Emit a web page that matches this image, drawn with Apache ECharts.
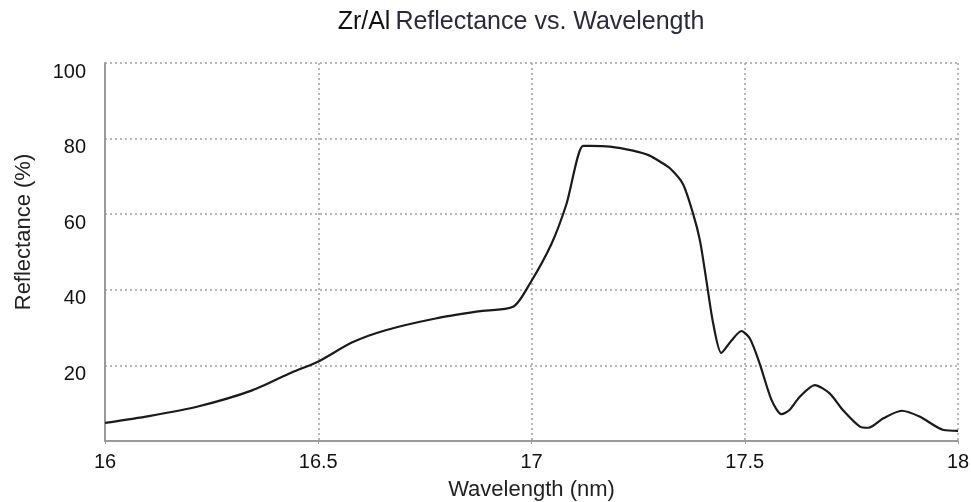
<!DOCTYPE html>
<html>
<head>
<meta charset="utf-8">
<script src="https://cdn.jsdelivr.net/npm/echarts@6/dist/echarts.min.js"></script>
<style>
  html, body { margin: 0; padding: 0; background: #fff; }
  #chart { width: 971px; height: 502px; }
</style>
</head>
<body>
<div id="chart"></div>
<script>
// values
var wavelength = [16.0, 16.103, 16.22, 16.345, 16.439, 16.498, 16.58, 16.658, 16.775,
    16.876, 16.958, 16.996, 17.047, 17.082, 17.121, 17.137, 17.184, 17.238, 17.277,
    17.30, 17.324, 17.355, 17.379, 17.395, 17.41, 17.426, 17.445, 17.469, 17.492,
    17.512, 17.535, 17.563, 17.586, 17.605, 17.629, 17.664, 17.699, 17.73, 17.77,
    17.79, 17.825, 17.868, 17.911, 17.966, 18.0];
var reflectance = [4.8, 6.6, 9.2, 13.4, 18.2, 20.9, 26.1, 29.3, 32.4,
    34.3, 35.6, 41.6, 52.2, 62.7, 78.1, 78.1, 77.9, 76.8, 75.5,
    74.0, 72.2, 68.0, 60.1, 53.0, 42.5, 31.1, 23.3, 26.6, 29.1,
    27.1, 20.5, 10.8, 7.1, 8.2, 11.7, 14.8, 12.6, 8.2, 3.8,
    3.5, 6.0, 8.0, 6.4, 2.9, 2.7];
var xTicks = [16, 16.5, 17, 17.5, 18];
var yTicks = [20, 40, 60, 80, 100];

var font = 'Liberation Sans, Arial, sans-serif';
var points = wavelength.map(function (w, i) { return [w, reflectance[i]]; });

var chart = echarts.init(document.getElementById('chart'), null, { renderer: 'canvas' });

var dotted = { color: '#a0a0a0', width: 1.5, type: [2, 3] };

chart.setOption({
    animation: false,
    title: {
        text: '{a|Zr/Al} {b|Reflectance vs. Wavelength}',
        left: 516,
        top: 5,
        textAlign: 'center',
        textStyle: {
            rich: {
                a: { fontFamily: font, fontSize: 25, fontWeight: 'normal', color: '#111' },
                b: { fontFamily: font, fontSize: 25, fontWeight: 'normal', color: '#2a2a3a' }
            }
        }
    },
    grid: {
        left: 105,
        right: 13,
        top: 63,
        bottom: 61,
        outerBoundsMode: 'none'
    },
    xAxis: {
        type: 'value',
        min: 16,
        max: 18,
        interval: 0.5,
        name: 'Wavelength (nm)',
        nameLocation: 'middle',
        nameGap: 38,
        nameTextStyle: { fontFamily: font, fontSize: 22, color: '#222' },
        axisLine: { lineStyle: { color: '#9a9a9a', width: 2 } },
        axisTick: { show: true, length: 3, lineStyle: { color: '#9a9a9a' } },
        axisLabel: {
            fontFamily: font, fontSize: 20, color: '#111', margin: 11,
            formatter: function (v) { return xTicks.indexOf(v) >= 0 ? String(v) : ''; }
        },
        splitLine: { show: true, lineStyle: dotted }
    },
    yAxis: {
        type: 'value',
        min: 0,
        max: 100,
        interval: 20,
        name: 'Reflectance (%)',
        nameLocation: 'middle',
        nameGap: 70,
        nameTextStyle: { fontFamily: font, fontSize: 22, color: '#222', padding: [0, 0, 0, 40] },
        axisLine: { show: true, lineStyle: { color: '#9a9a9a', width: 2 } },
        axisTick: { show: false },
        axisLabel: {
            fontFamily: font, fontSize: 20, color: '#111', margin: 19,
            verticalAlign: 'top', lineHeight: 18,
            formatter: function (v) { return yTicks.indexOf(v) >= 0 ? String(v) : ''; }
        },
        splitLine: { show: true, lineStyle: dotted }
    },
    series: [{
        name: 'Reflectance',
        type: 'line',
        data: points,
        showSymbol: false,
        smooth: 0.25,
        lineStyle: { color: '#1a1a1a', width: 2.2 }
    }]
});
</script>
</body>
</html>
